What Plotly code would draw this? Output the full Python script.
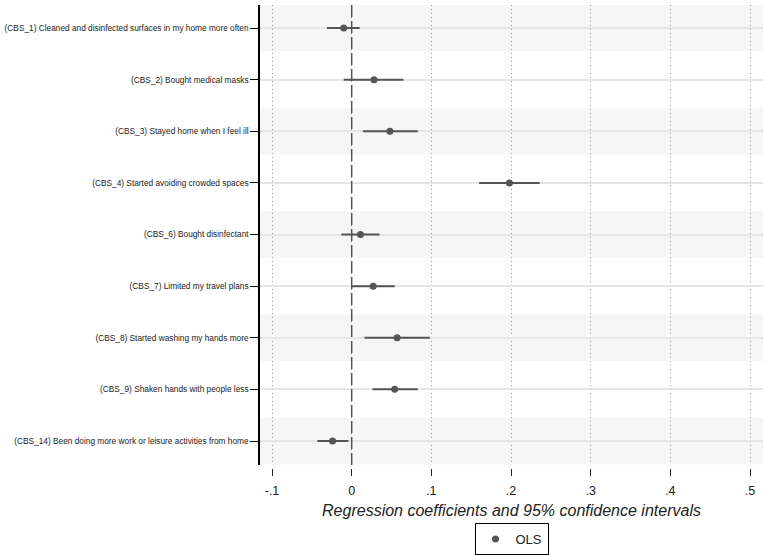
import plotly.graph_objects as go

labels = [
    "(CBS_1) Cleaned and disinfected surfaces in my home more often",
    "(CBS_2) Bought medical masks",
    "(CBS_3) Stayed home when I feel ill",
    "(CBS_4) Started avoiding crowded spaces",
    "(CBS_6) Bought disinfectant",
    "(CBS_7) Limited my travel plans",
    "(CBS_8) Started washing my hands more",
    "(CBS_9) Shaken hands with people less",
    "(CBS_14) Been doing more work or leisure activities from home",
]
coef = [-0.010, 0.028, 0.048, 0.198, 0.011, 0.027, 0.057, 0.054, -0.024]
ci_low = [-0.031, -0.010, 0.014, 0.160, -0.013, 0.000, 0.016, 0.026, -0.043]
ci_high = [0.010, 0.065, 0.083, 0.236, 0.035, 0.054, 0.098, 0.083, -0.004]

xticks = [-0.1, 0, 0.1, 0.2, 0.3, 0.4, 0.5]
xticktext = ["-.1", "0", ".1", ".2", ".3", ".4", ".5"]

ypos = list(range(1, len(labels) + 1))
col = "#555555"

fig = go.Figure()
fig.add_trace(go.Scatter(
    x=coef, y=ypos, mode="markers", name="OLS",
    marker=dict(color=col, size=7),
    error_x=dict(type="data", symmetric=False,
                 array=[h - c for h, c in zip(ci_high, coef)],
                 arrayminus=[c - l for c, l in zip(coef, ci_low)],
                 color=col, thickness=2, width=0),
    showlegend=True,
))

shapes = []
for i, y in enumerate(ypos):
    if i % 2 == 0:
        shapes.append(dict(type="rect", xref="x domain", yref="y",
                           x0=0, x1=1, y0=y - 0.45, y1=y + 0.45,
                           fillcolor="#f6f6f6", line_width=0, layer="below"))
shapes.append(dict(type="line", xref="x", yref="y domain", x0=0, x1=0, y0=0, y1=1,
                   line=dict(color="#555555", width=1.5, dash="12px,4px")))
fig.update_layout(shapes=shapes)

fig.update_layout(
    width=766, height=556,
    margin=dict(l=260, r=3, t=5, b=88, autoexpand=False),
    paper_bgcolor="white", plot_bgcolor="white",
    font=dict(family="Liberation Sans, Arial, sans-serif", color="#222222"),
    showlegend=True,
    legend=dict(x=0.5, xanchor="center", yref="container", y=1 - 523 / 556, yanchor="top",
                orientation="h", bordercolor="black", borderwidth=1, itemwidth=30,
                font=dict(size=13, color="#222222"), bgcolor="white"),
    xaxis=dict(range=[-0.1151, 0.5163], tickvals=xticks, ticktext=xticktext,
               showgrid=True, gridcolor="#999999", griddash="1px,3px", gridwidth=1,
               zeroline=False, showline=False, ticks="outside", ticklen=7,
               tickcolor="#222222", tickwidth=1.2,
               tickfont=dict(size=12.5), ticklabelstandoff=4,
               anchor="free", position=0,
               automargin=False,
               title=dict(text="<i>Regression coefficients and 95% confidence intervals</i>",
                          font=dict(size=16), standoff=7)),
    yaxis=dict(range=[9.465, 0.554], tickvals=ypos, ticktext=labels,
               domain=[3 / 463, 1], automargin=False,
               showgrid=True, gridcolor="#e6e6e6", gridwidth=1.5,
               zeroline=False, showline=True, linecolor="black", linewidth=1.5,
               ticks="outside", ticklen=8, tickcolor="black", tickwidth=1.2,
               tickfont=dict(size=8.3)),
)

fig.write_html("out.html")
